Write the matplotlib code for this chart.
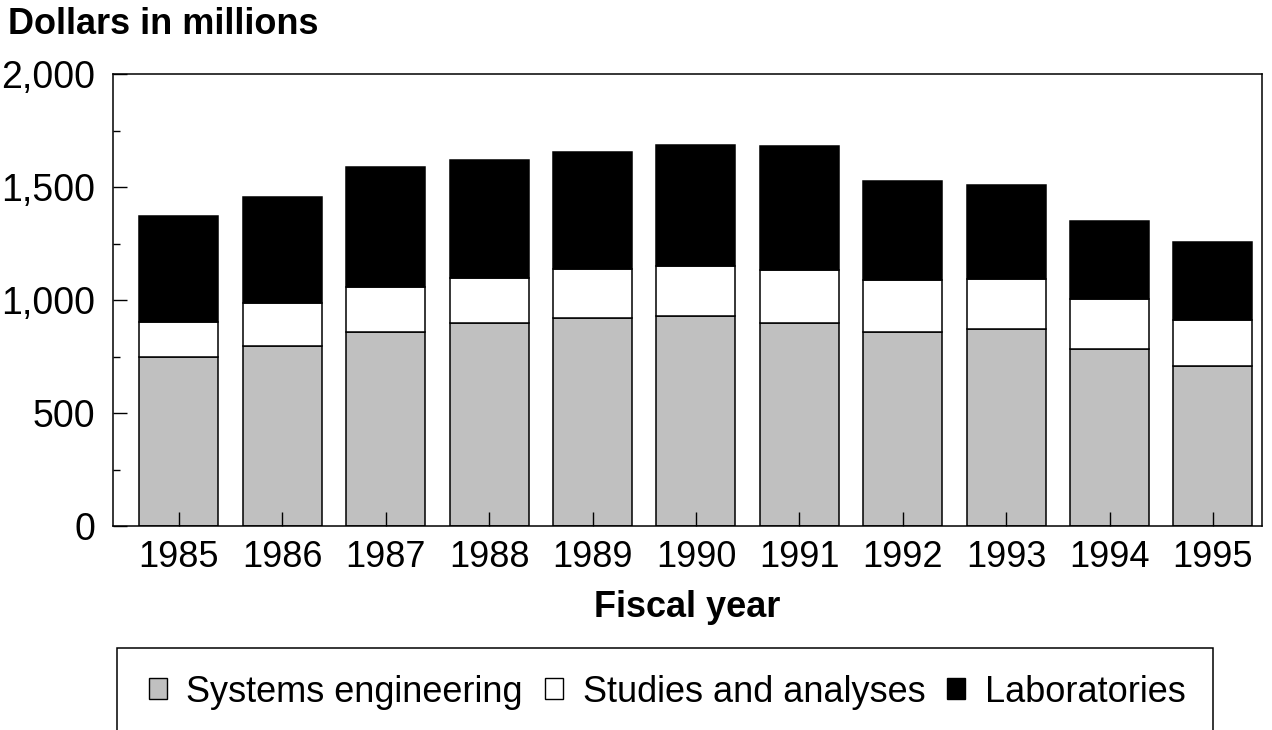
import matplotlib

matplotlib.use("Agg")
import matplotlib.pyplot as plt
from matplotlib.patches import Patch, Rectangle
from matplotlib.ticker import FuncFormatter, MultipleLocator
import numpy as np

years = ["1985", "1986", "1987", "1988", "1989", "1990", "1991", "1992", "1993", "1994", "1995"]
systems_eng = [749, 798, 857, 900, 920, 931, 898, 860, 872, 783, 709]
studies = [152, 187, 199, 199, 216, 219, 233, 227, 222, 223, 204]
laboratories = [471, 471, 532, 520, 517, 534, 549, 438, 413, 345, 342]

plt.rcParams.update(
    {
        "font.family": ["Liberation Sans", "DejaVu Sans"],
        "font.size": 26,
        "axes.linewidth": 1.1,
    }
)

W, H = 1272, 730
fig = plt.figure(figsize=(W / 100, H / 100), dpi=100)
ax = fig.add_axes([113 / W, 1 - 526 / H, (1262 - 113) / W, (526 - 74) / H])

x = np.arange(len(years))
se = np.array(systems_eng, dtype=float)
st = np.array(studies, dtype=float)
lab = np.array(laboratories, dtype=float)
bw = 0.764
kw = dict(width=bw, edgecolor="black", linewidth=1.1)
ax.bar(x, se, color="#c0c0c0", **kw)
ax.bar(x, st, bottom=se, color="white", **kw)
ax.bar(x, lab, bottom=se + st, color="black", **kw)

ax.set_xlim(-0.638, 10.474)
ax.set_ylim(0, 2000)
ax.set_xticks(x)
ax.set_xticklabels(years)
ax.yaxis.set_major_locator(MultipleLocator(500))
ax.yaxis.set_minor_locator(MultipleLocator(250))
ax.yaxis.set_major_formatter(FuncFormatter(lambda v, p: f"{int(v):,}"))
ax.tick_params(axis="y", which="major", direction="in", length=10, width=1, pad=13, labelsize=27)
ax.tick_params(axis="y", which="minor", direction="in", length=5, width=1)
ax.tick_params(axis="x", direction="in", length=10, width=1, pad=10, labelsize=26)
ax.set_xlabel("Fiscal year", fontweight="bold", fontsize=26, labelpad=11)

fig.text(8 / W, 1 - 25 / H, "Dollars in millions", fontweight="bold", fontsize=26, ha="left", va="center")

# legend frame runs off the bottom edge
fig.patches.append(
    Rectangle((117 / W, -0.1), (1213 - 117) / W, 0.1 + (730 - 648) / H,
              transform=fig.transFigure, fill=False, edgecolor="black", linewidth=1.1)
)
handles = [
    Patch(facecolor="#c0c0c0", edgecolor="black", linewidth=1, label="Systems engineering"),
    Patch(facecolor="white", edgecolor="black", linewidth=1, label="Studies and analyses"),
    Patch(facecolor="black", edgecolor="black", linewidth=1, label="Laboratories"),
]
fig.legend(
    handles=handles, loc="center", bbox_to_anchor=(667 / W, 1 - 692 / H), ncol=3,
    frameon=False, fontsize=26, handlelength=0.5, handleheight=0.5,
    handletextpad=0.55, columnspacing=0.6, borderpad=0,
)

fig.savefig("out.png", dpi=100, facecolor="white")
